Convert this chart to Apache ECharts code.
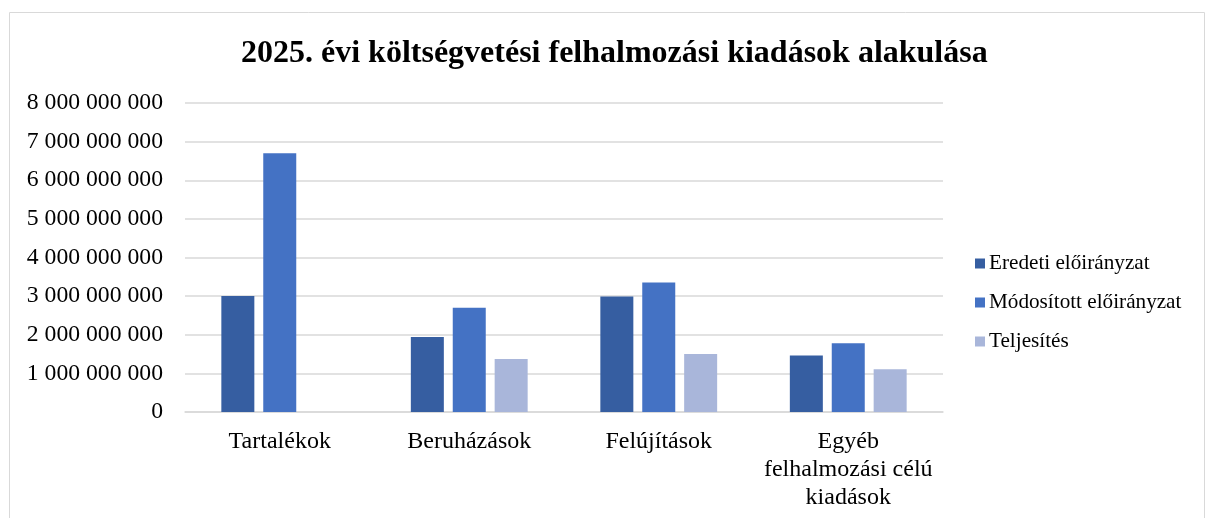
<!DOCTYPE html>
<html>
<head>
<meta charset="utf-8">
<script src="https://cdn.jsdelivr.net/npm/echarts@6/dist/echarts.min.js"></script>
<style>
  html, body { margin: 0; padding: 0; background: #fff; }
  #chart { width: 1208px; height: 518px; }
</style>
</head>
<body>
<div id="chart"></div>
<script>
const categories = ['Tartalékok', 'Beruházások', 'Felújítások', 'Egyéb\nfelhalmozási célú\nkiadások'];
const eredeti = [3005000000, 1940000000, 2990000000, 1460000000];
const modositott = [6700000000, 2700000000, 3350000000, 1780000000];
const teljesites = [0, 1370000000, 1500000000, 1110000000];
const seriesNames = ['Eredeti előirányzat', 'Módosított előirányzat', 'Teljesítés'];
const colors = ['#365EA1', '#4472C4', '#A9B6DA'];

const font = '"Liberation Serif", "Times New Roman", serif';

// szóközzel tagolt ezres csoportok
const fmt = v => String(v).replace(/\B(?=(\d{3})+(?!\d))/g, ' ');

const myChart = echarts.init(document.getElementById('chart'));
myChart.setOption({
  animation: false,
  title: {
    text: '2025. évi költségvetési felhalmozási kiadások alakulása',
    left: 236,
    top: 33,
    textStyle: { fontFamily: font, fontSize: 32, fontWeight: 'bold', color: '#000' }
  },
  legend: {
    orient: 'vertical',
    left: 975,
    top: 253,
    padding: 0,
    itemWidth: 10,
    itemHeight: 10,
    itemGap: 18,
    icon: 'rect',
    textStyle: { fontFamily: font, fontSize: 21.2, color: '#000', padding: [0, 0, 0, -1] },
    data: seriesNames
  },
  graphic: [{
    type: 'rect',
    shape: { x: 9.5, y: 12.5, width: 1195, height: 520 },
    style: { fill: 'none', stroke: '#D9D9D9', lineWidth: 1 }
  }],
  grid: { left: 185, right: 265, top: 103, bottom: 106 },
  xAxis: {
    type: 'category',
    data: categories,
    axisTick: { show: false },
    axisLine: { lineStyle: { color: '#D9D9D9', width: 1.5 } },
    axisLabel: { interval: 0, fontFamily: font, fontSize: 24, color: '#000', margin: 16, lineHeight: 28 }
  },
  yAxis: {
    type: 'value',
    min: 0,
    max: 8000000000,
    interval: 1000000000,
    axisLabel: { fontFamily: font, fontSize: 23.7, color: '#000', margin: 22, formatter: fmt },
    splitLine: { lineStyle: { color: '#D9D9D9', width: 1.5 } }
  },
  series: [
    { name: seriesNames[0], type: 'bar', data: eredeti, itemStyle: { color: colors[0] }, barWidth: 33, barGap: '27%' },
    { name: seriesNames[1], type: 'bar', data: modositott, itemStyle: { color: colors[1] }, barWidth: 33, barGap: '27%' },
    { name: seriesNames[2], type: 'bar', data: teljesites, itemStyle: { color: colors[2] }, barWidth: 33, barGap: '27%' }
  ]
});
</script>
</body>
</html>
